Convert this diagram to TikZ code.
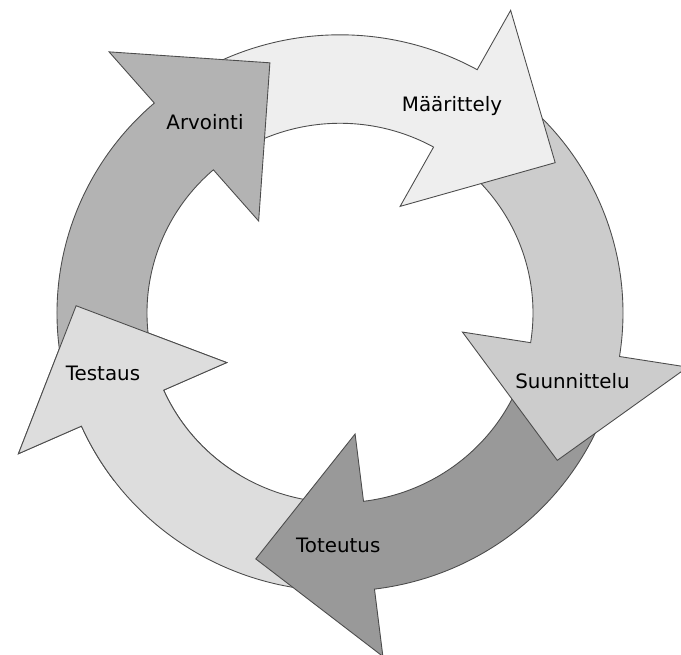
\documentclass[tikz,border=0pt]{standalone}
\usepackage{fontspec}
\setmainfont{DejaVu Sans}

\definecolor{arvgray}{HTML}{B3B3B3}
\definecolor{margray}{HTML}{EEEEEE}
\definecolor{suugray}{HTML}{CCCCCC}
\definecolor{totgray}{HTML}{999999}
\definecolor{tesgray}{HTML}{DDDDDD}

\tikzset{
    arrowline/.style={draw=black!70, line width=0.5pt, line join=miter},
    phase/.style={font=\fontsize{11.3}{13}\selectfont, anchor=base, inner sep=0pt}
}

% curved arrow from angle #1 to angle #2, filled with #3
\newcommand{\phasearrow}[3]{%
    \filldraw[arrowline, fill=#3] (#1:283) arc[start angle=#1, end angle=#2, radius=283]
        -- (#2:352) -- ({#2-25.6}:264) -- (#2:124) -- (#2:193)
        arc[start angle=#2, end angle=#1, radius=193] -- cycle;
}

\begin{document}
\begin{tikzpicture}[x=0.02cm, y=0.02cm]
\useasboundingbox (-340,-342) rectangle (341,313);
% Ring of phase arrows, each head over the next tail
\begin{scope}[yscale=0.983]
\foreach \a/\b/\c in {-83/-156/tesgray, -9/-83/totgray, 61/-9/suugray, 131/61/margray, 204/131/arvgray}
{
    \phasearrow{\a}{\b}{\c}
}
% Testaus head again, over the tail of Arvointi
\begin{scope}
\clip (-345,-170) rectangle (-100,30);
\phasearrow{-83}{-156}{tesgray}
\end{scope}
\end{scope}
% Phase names
\node[phase] (arv) at (-135,183) {Arvointi};
\node[phase] (mar) at (112,201) {Määrittely};
\node[phase] (suu) at (232.5,-76) {Suunnittelu};
\node[phase] (tot) at (-1.7,-239.7) {Toteutus};
\node[phase] (tes) at (-237,-67.7) {Testaus};
\end{tikzpicture}
\end{document}
